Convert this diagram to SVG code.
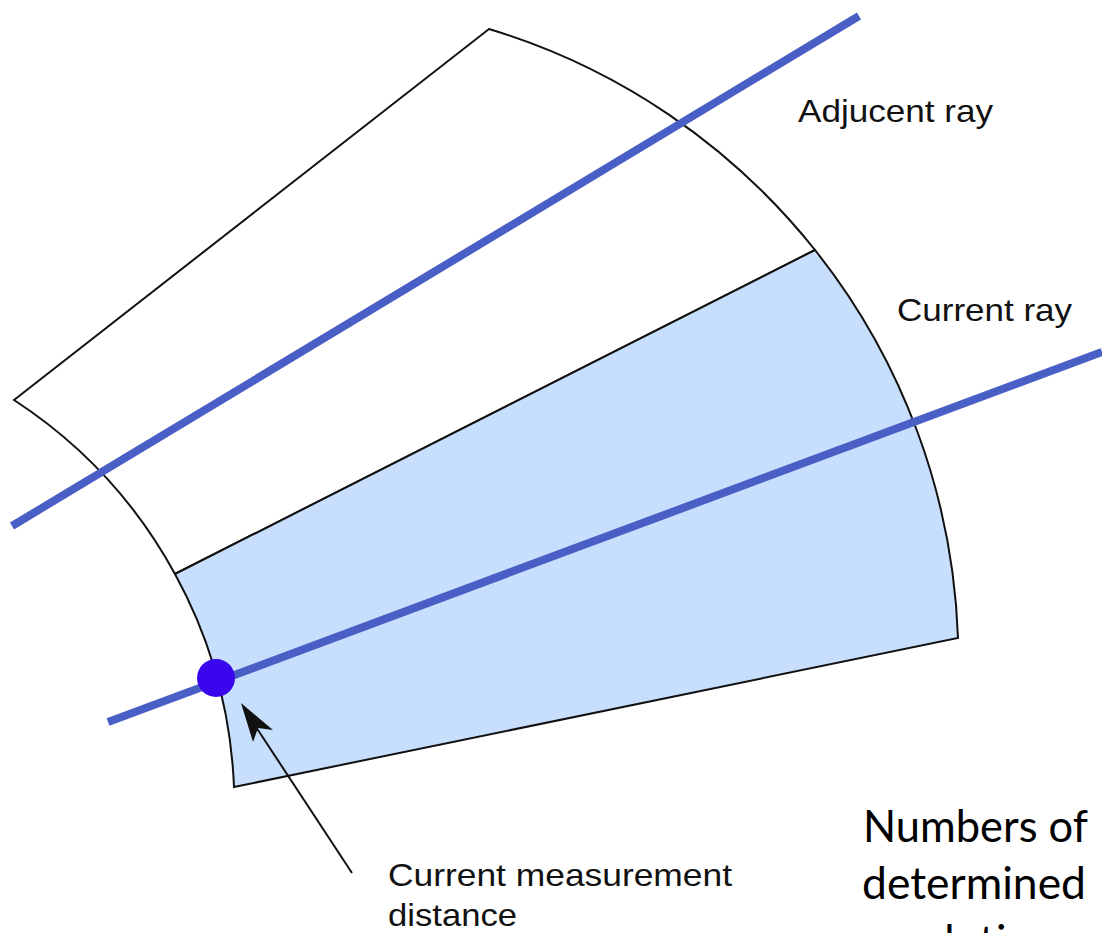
<svg xmlns="http://www.w3.org/2000/svg" width="1102" height="933" viewBox="0 0 1102 933">
  <style>
    .sector { stroke: #111; stroke-width: 2; stroke-linejoin: miter; }
    .ray { stroke: #4a5fc6; stroke-width: 8; fill: none; stroke-linecap: butt; }
    .lbl { font-family: "Liberation Sans", Arial, sans-serif; font-size: 32px; fill: #111; }
    .big { font-family: Lato, "Open Sans", "Noto Sans", sans-serif; font-size: 44px; fill: #000; }
  </style>
  <rect width="1102" height="933" fill="#ffffff"/>
  <g id="sector-adjacent">
    <path class="sector" fill="#ffffff" d="M14,400 L489,29 A660,660 0 0,1 815,250 L175,574 A485,485 0 0,0 14,400 Z"/>
  </g>
  <g id="sector-current">
    <path class="sector" fill="#c7dffc" d="M175,574 L815,250 A660,660 0 0,1 958,638 L234,787 A485,485 0 0,0 175,574 Z"/>
  </g>
  <g id="ray-adjacent">
    <line class="ray" x1="12" y1="526" x2="859" y2="16"/>
  </g>
  <g id="ray-current">
    <line class="ray" x1="108" y1="722" x2="1102" y2="352"/>
  </g>
  <g id="measurement-point">
    <circle cx="216" cy="678" r="19" fill="#3a06ee"/>
  </g>
  <g id="connectors">
    <line x1="352" y1="873" x2="256" y2="727" stroke="#111" stroke-width="2"/>
    <polygon points="241,703 273,730 258,728 253,742" fill="#111"/>
  </g>
  <g id="label-adjacent">
    <text class="lbl" x="798" y="122" textLength="195" lengthAdjust="spacingAndGlyphs">Adjucent ray</text>
  </g>
  <g id="label-current">
    <text class="lbl" x="897" y="321" textLength="175" lengthAdjust="spacingAndGlyphs">Current ray</text>
  </g>
  <g id="label-measurement">
    <text class="lbl" x="388" y="886" textLength="344" lengthAdjust="spacingAndGlyphs">Current measurement</text>
    <text class="lbl" x="388" y="926" textLength="129" lengthAdjust="spacingAndGlyphs">distance</text>
  </g>
  <g id="label-numbers">
    <text class="big" x="863" y="842" textLength="225" lengthAdjust="spacingAndGlyphs">Numbers of</text>
    <text class="big" x="862" y="899" textLength="224" lengthAdjust="spacingAndGlyphs">determined</text>
    <text class="big" x="862" y="957">resolution</text>
  </g>
</svg>
